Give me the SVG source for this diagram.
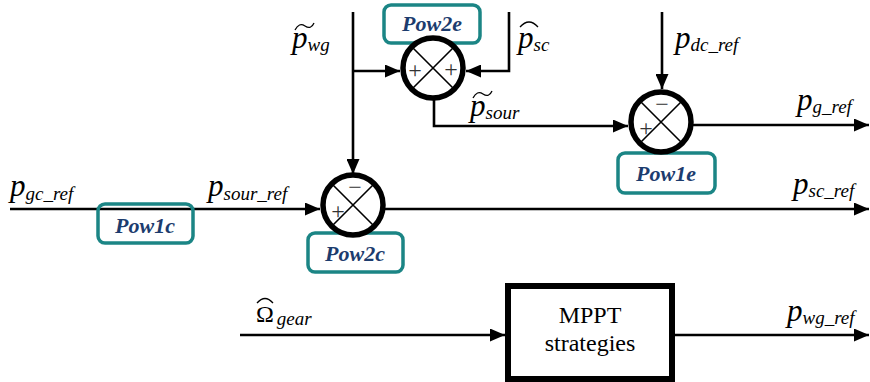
<svg xmlns="http://www.w3.org/2000/svg" width="870" height="382" viewBox="0 0 870 382" font-family="Liberation Serif">
<defs>
<marker id="ah" markerUnits="userSpaceOnUse" markerWidth="15" markerHeight="13" refX="15" refY="6.5" orient="auto">
<path d="M0,0 L15,6.5 L0,13 z" fill="#000"/>
</marker>
</defs>
<g id="connectors" fill="none" stroke="#000" stroke-width="2.6">
<path d="M353,12 V174" marker-end="url(#ah)"/>
<path d="M353,71 H400" marker-end="url(#ah)"/>
<path d="M509,12 V71 H466" marker-end="url(#ah)"/>
<path d="M434,98 V126 H628" marker-end="url(#ah)"/>
<path d="M662,12 V89" marker-end="url(#ah)"/>
<path d="M693,125 H869" marker-end="url(#ah)"/>
<path d="M10,209 H320" marker-end="url(#ah)"/>
<path d="M385,209 H869" marker-end="url(#ah)"/>
<path d="M240,335 H505" marker-end="url(#ah)"/>
<path d="M675,335 H869" marker-end="url(#ah)"/>
</g>
<g id="Pow1c">
<rect x="98" y="204" width="95" height="39" rx="7" fill="none" stroke="#1b8585" stroke-width="3.5"/>
<text x="145" y="233" style="font-family:'Liberation Serif'" font-style="italic" font-weight="bold" font-size="22" fill="#1c3c6e" text-anchor="middle">Pow1c</text>
</g>
<g id="Pow2e">
<rect x="384" y="5" width="96" height="38" rx="7" fill="#fff" stroke="#1b8585" stroke-width="3.5"/>
<text x="432" y="31" style="font-family:'Liberation Serif'" font-style="italic" font-weight="bold" font-size="22" fill="#1c3c6e" text-anchor="middle">Pow2e</text>
</g>
<g id="sum2e">
<circle cx="433" cy="68" r="30" fill="#fff" stroke="#000" stroke-width="5.5"/>
<path d="M412,47 L454,89 M454,47 L412,89" stroke="#000" stroke-width="1.6"/>
<text x="415" y="78" style="font-family:'Liberation Serif'" font-size="24" fill="#333" text-anchor="middle">+</text>
<text x="451" y="77" style="font-family:'Liberation Serif'" font-size="24" fill="#333" text-anchor="middle">+</text>
</g>
<g id="Pow1e">
<rect x="618" y="153" width="97" height="40" rx="7" fill="#fff" stroke="#1b8585" stroke-width="3.5"/>
<text x="666" y="181" style="font-family:'Liberation Serif'" font-style="italic" font-weight="bold" font-size="22" fill="#1c3c6e" text-anchor="middle">Pow1e</text>
</g>
<g id="sum1e">
<circle cx="661" cy="122" r="30" fill="#fff" stroke="#000" stroke-width="5.5"/>
<path d="M640,101 L682,143 M682,101 L640,143" stroke="#000" stroke-width="1.6"/>
<text x="662" y="112" style="font-family:'Liberation Serif'" font-size="24" fill="#333" text-anchor="middle">&#8722;</text>
<text x="646" y="136" style="font-family:'Liberation Serif'" font-size="24" fill="#333" text-anchor="middle">+</text>
</g>
<g id="Pow2c">
<rect x="308" y="233" width="95" height="39" rx="7" fill="#fff" stroke="#1b8585" stroke-width="3.5"/>
<text x="355" y="261" style="font-family:'Liberation Serif'" font-style="italic" font-weight="bold" font-size="22" fill="#1c3c6e" text-anchor="middle">Pow2c</text>
</g>
<g id="sum2c">
<circle cx="353" cy="205" r="30" fill="#fff" stroke="#000" stroke-width="5.5"/>
<path d="M332,184 L374,226 M374,184 L332,226" stroke="#000" stroke-width="1.6"/>
<text x="355" y="195" style="font-family:'Liberation Serif'" font-size="24" fill="#333" text-anchor="middle">&#8722;</text>
<text x="338" y="219" style="font-family:'Liberation Serif'" font-size="24" fill="#333" text-anchor="middle">+</text>
</g>
<g id="MPPT">
<rect x="508" y="286" width="164" height="93" fill="#fff" stroke="#000" stroke-width="6"/>
<text x="590" y="323" style="font-family:'Liberation Serif'" font-size="24" text-anchor="middle">MPPT</text>
<text x="590" y="351" style="font-family:'Liberation Serif'" font-size="24" text-anchor="middle">strategies</text>
</g>
<g id="labels">
<text x="10" y="196" style="font-family:'Liberation Serif'" font-style="italic" font-size="31">p<tspan font-size="19" dy="4">gc_ref</tspan></text>
<text x="208" y="196" style="font-family:'Liberation Serif'" font-style="italic" font-size="31">p<tspan font-size="19" dy="4">sour_ref</tspan></text>
<text x="292" y="48" style="font-family:'Liberation Serif'" font-style="italic" font-size="31">p<tspan font-size="19" dy="3">wg</tspan></text>
<path d="M295,30 Q299,22 305,26 T314,23" fill="none" stroke="#000" stroke-width="1.3"/>
<text x="518" y="48" style="font-family:'Liberation Serif'" font-style="italic" font-size="31">p<tspan font-size="19" dy="3">sc</tspan></text>
<path d="M520,27 Q529,17 538,27" fill="none" stroke="#000" stroke-width="1.3"/>
<text x="470" y="116" style="font-family:'Liberation Serif'" font-style="italic" font-size="31">p<tspan font-size="19" dy="3">sour</tspan></text>
<path d="M473,98 Q477,90 483,94 T492,91" fill="none" stroke="#000" stroke-width="1.3"/>
<text x="675" y="48" style="font-family:'Liberation Serif'" font-style="italic" font-size="31">p<tspan font-size="19" dy="3">dc_ref</tspan></text>
<text x="797" y="110" style="font-family:'Liberation Serif'" font-style="italic" font-size="31">p<tspan font-size="19" dy="3">g_ref</tspan></text>
<text x="793" y="194" style="font-family:'Liberation Serif'" font-style="italic" font-size="31">p<tspan font-size="19" dy="3">sc_ref</tspan></text>
<text x="787" y="321" style="font-family:'Liberation Serif'" font-style="italic" font-size="31">p<tspan font-size="19" dy="3">wg_ref</tspan></text>
<text x="256" y="322" style="font-family:'Liberation Serif'" font-size="24">&#937;<tspan font-style="italic" font-size="19" dx="3" dy="3">gear</tspan></text>
<path d="M257,303 Q265,294 273,303" fill="none" stroke="#000" stroke-width="1.3"/>
</g>
</svg>
